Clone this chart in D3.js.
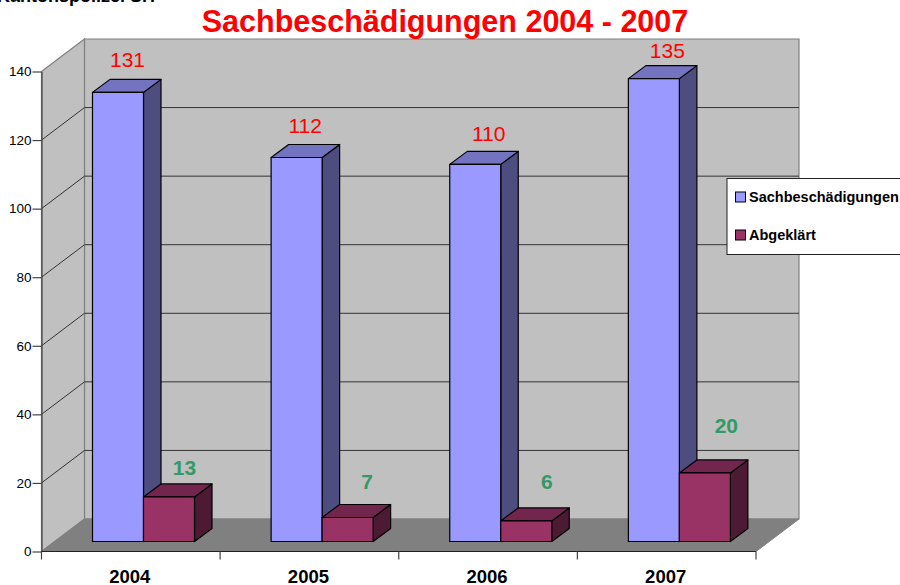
<!DOCTYPE html>
<html>
<head>
<meta charset="utf-8">
<script src="https://cdn.jsdelivr.net/npm/d3@7"></script>
<style>
  html, body { margin: 0; background: #fff; }
  svg { display: block; font-family: "Liberation Sans", Arial, sans-serif; }
</style>
</head>
<body>
<svg id="chart" width="900" height="585"></svg>
<script>
const years = ["2004", "2005", "2006", "2007"];
const seriesNames = ["Sachbeschädigungen", "Abgeklärt"];
const damages = [131, 112, 110, 135];
const solved = [13, 7, 6, 20];
const yTicks = [0, 20, 40, 60, 80, 100, 120, 140];

const svg = d3.select("#chart");

const x = d3.scaleBand().domain(years).range([41.5, 756]);
const y = d3.scaleLinear().domain([0, 140]).range([551.5, 71.5]);

// Depth of the chart box and of the bars
const depthX = 43, depthY = -32.5;
const barDX = 17.5, barDY = -13;
const offX = 13.5, offY = -10;
const barW = 51;
const barLeft = 37.5;

// Hand placed label nudges, the original labels do not sit at a fixed distance
const damageLabelDx = [35, 34, 39, 39];
const damageLabelDy = [-35, -35, -33, -31];
const solvedLabelDx = [92, 96, 97, 98];
const solvedLabelDy = [-32, -39, -42, -50];

const poly = pts => pts.map(p => p.join(",")).join(" ");
const x0 = x.range()[0], x1 = x.range()[1];
const yBottom = y(0), yTop = y(140);

// Back wall
svg.append("polygon")
  .attr("points", poly([[x0 + depthX, yTop + depthY], [x1 + depthX, yTop + depthY], [x1 + depthX, yBottom + depthY], [x0 + depthX, yBottom + depthY]]))
  .attr("fill", "#c0c0c0").attr("stroke", "#808080").attr("stroke-width", 1.2);

// Left wall
svg.append("polygon")
  .attr("points", poly([[x0, yTop], [x0 + depthX, yTop + depthY], [x0 + depthX, yBottom + depthY], [x0, yBottom]]))
  .attr("fill", "#c0c0c0").attr("stroke", "#808080").attr("stroke-width", 1.2);

// Floor
svg.append("polygon")
  .attr("points", poly([[x0, yBottom], [x1, yBottom], [x1 + depthX, yBottom + depthY], [x0 + depthX, yBottom + depthY]]))
  .attr("fill", "#808080").attr("stroke", "#808080").attr("stroke-width", 1);

// Gridlines on both walls
yTicks.filter(t => t > 0 && t < 140).forEach(t => {
  svg.append("polyline")
    .attr("points", poly([[x0, y(t)], [x0 + depthX, y(t) + depthY], [x1 + depthX, y(t) + depthY]]))
    .attr("fill", "none").attr("stroke", "#333").attr("stroke-width", 1);
});

// Axis lines and ticks
const yAxis = svg.append("g")
  .attr("transform", `translate(${x0},0)`)
  .call(d3.axisLeft(y).tickValues(yTicks).tickSize(9).tickSizeOuter(0).tickPadding(1));
yAxis.selectAll("text").attr("font-size", 13.5).attr("font-family", "Liberation Sans").attr("fill", "#000");
yAxis.selectAll("line, path").attr("stroke", "#444").attr("stroke-width", 1.2);

const xEdges = years.map(d => x(d)).concat([x1]);
const xAxisG = svg.append("g");
xAxisG.append("line")
  .attr("x1", x0).attr("x2", x1).attr("y1", yBottom).attr("y2", yBottom)
  .attr("stroke", "#222").attr("stroke-width", 1.2);
xAxisG.selectAll("line.tick").data(xEdges).enter().append("line")
  .attr("class", "tick")
  .attr("x1", d => d).attr("x2", d => d)
  .attr("y1", yBottom).attr("y2", yBottom + 8)
  .attr("stroke", "#444").attr("stroke-width", 1.2);
xAxisG.selectAll("text").data(years).enter().append("text")
  .attr("x", d => x(d) + x.bandwidth() / 2 - 1)
  .attr("y", 582.5)
  .attr("text-anchor", "middle")
  .attr("font-size", 18.5).attr("font-weight", "bold").attr("fill", "#000")
  .text(d => d);

// Draws one 3D bar: side, top, then front
function drawBar(left, value, colors) {
  const top = y(value) + offY, base = yBottom + offY, right = left + barW;
  const g = svg.append("g")
    .attr("stroke", "#000").attr("stroke-width", 1.2).attr("stroke-linejoin", "round");
  g.append("polygon")
    .attr("points", poly([[right, top], [right + barDX, top + barDY], [right + barDX, base + barDY], [right, base]]))
    .attr("fill", colors[2]);
  g.append("polygon")
    .attr("points", poly([[left, top], [left + barDX, top + barDY], [right + barDX, top + barDY], [right, top]]))
    .attr("fill", colors[1]);
  g.append("rect")
    .attr("x", left).attr("y", top).attr("width", barW).attr("height", base - top)
    .attr("fill", colors[0]);
}

const blue = ["#9999ff", "#7373bf", "#4d4d80"];
const wine = ["#993366", "#73264d", "#4d1a33"];

years.forEach((yr, i) => {
  const left = x(yr) + offX + barLeft;
  drawBar(left, damages[i], blue);
  drawBar(left + barW, solved[i], wine);
});

// Value labels
years.forEach((yr, i) => {
  const left = x(yr) + offX + barLeft;
  svg.append("text")
    .attr("x", left + damageLabelDx[i]).attr("y", y(damages[i]) + damageLabelDy[i])
    .attr("text-anchor", "middle").attr("font-size", 21).attr("fill", "#ff0000")
    .text(damages[i]);
  svg.append("text")
    .attr("x", left + solvedLabelDx[i]).attr("y", y(solved[i]) + solvedLabelDy[i])
    .attr("text-anchor", "middle").attr("font-size", 21).attr("font-weight", "bold").attr("fill", "#339966")
    .text(solved[i]);
});

// Title
svg.append("text")
  .attr("x", 445).attr("y", 32)
  .attr("text-anchor", "middle").attr("font-size", 30.5).attr("font-weight", "bold").attr("fill", "#ff0000")
  .text("Sachbeschädigungen 2004 - 2007");

// Clipped source line at the top
svg.append("text")
  .attr("x", -3).attr("y", 1.5)
  .attr("font-size", 18).attr("font-weight", "bold").attr("fill", "#000")
  .text("Kantonspolizei SH");

// Legend
svg.append("rect")
  .attr("x", 727).attr("y", 178.5).attr("width", 180).attr("height", 76)
  .attr("fill", "#fff").attr("stroke", "#222").attr("stroke-width", 1);
seriesNames.forEach((name, i) => {
  const ly = 197 + i * 38;
  svg.append("rect")
    .attr("x", 735.5).attr("y", ly - 5).attr("width", 10).attr("height", 10)
    .attr("fill", i === 0 ? blue[0] : wine[0]).attr("stroke", "#000").attr("stroke-width", 1);
  svg.append("text")
    .attr("x", 749).attr("y", ly + 5)
    .attr("font-size", 14.5).attr("font-weight", "bold").attr("fill", "#000")
    .text(name);
});
</script>
</body>
</html>
